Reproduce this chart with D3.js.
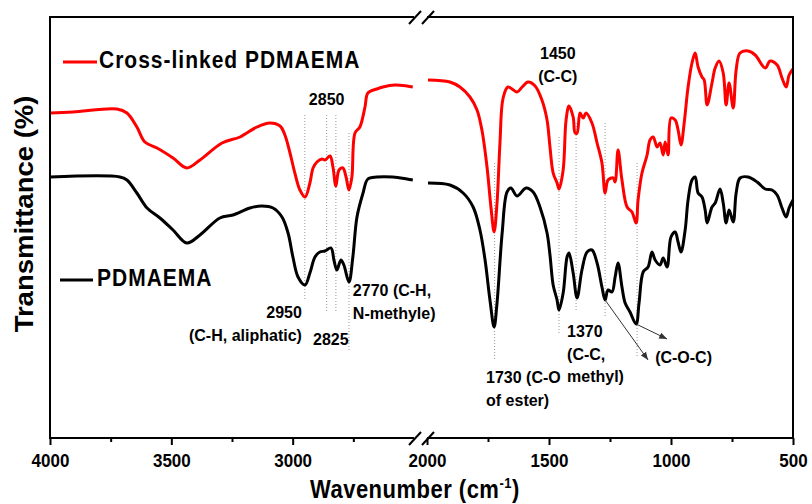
<!DOCTYPE html>
<meta charset="utf-8">
<style>
body { margin: 0; background: #fff; }
svg { font-family: "Liberation Sans", Arial, sans-serif; font-weight: bold; }
.frame { stroke: #000; stroke-width: 2px; fill: none; }
.axis path, .axis line { stroke: #000; stroke-width: 2px; }
.spec { fill: none; stroke-width: 3px; stroke-linejoin: round; }
.mark { stroke: #999; stroke-width: 1px; stroke-dasharray: 1,2; }
.arrow { stroke: #333; stroke-width: 1px; }
</style>
<svg width="812" height="504"></svg>
<script src="https://cdnjs.cloudflare.com/ajax/libs/d3/7.8.5/d3.min.js"></script>
<script>
// spectra: [wavenumber, transmittance (arb. %)]
var crossLeft = [[4000,81.25],[3905,81.5],[3724,82.25],[3683,81.25],[3642,77.75],[3609,74],[3559,72.5],[3493,70],[3436,67.5],[3382,69.5],[3291,73.75],[3217,75.25],[3147,77.75],[3094,78.75],[3052,78],[3032,75.75],[3011,71.25],[2991,66.25],[2970,62],[2949,60.25],[2929,63.75],[2916,67.5],[2900,69],[2879,69.75],[2867,69.5],[2846,70.5],[2834,67.75],[2822,63],[2809,67],[2793,67.5],[2780,65.25],[2768,62],[2756,65.25],[2743,76.25],[2723,77.75],[2702,82.75],[2690,86.25],[2653,87.25],[2628,87.75],[2579,88.25],[2529,88],[2505,87.75]];
var crossRight = [[1996,89.5],[1906,89],[1865,87.75],[1824,85.25],[1795,82],[1775,77],[1754,67.75],[1738,57.75],[1725,51.5],[1713,58.75],[1701,73.75],[1688,85],[1668,87.75],[1631,86.5],[1610,87.75],[1586,89],[1557,88],[1529,84.5],[1508,79.5],[1496,72.75],[1483,66.25],[1467,63.75],[1459,62.25],[1442,67],[1430,79.5],[1418,83],[1401,80.25],[1393,76.25],[1385,76.25],[1373,81.25],[1360,80],[1348,81.25],[1324,78.75],[1303,73.75],[1283,68.75],[1270,61.25],[1258,64.5],[1237,65],[1229,64],[1217,72],[1201,64.5],[1180,57.75],[1160,56.5],[1143,53.75],[1135,59.5],[1119,66.25],[1098,70.75],[1086,74.5],[1073,75.25],[1057,72.75],[1045,73.75],[1032,70.75],[1024,74],[1012,70.75],[1000,80],[983,79.5],[971,77],[959,73.25],[946,78.75],[930,87.75],[914,93.75],[901,96.25],[889,92.75],[873,90.25],[864,89.5],[852,83.25],[832,88.75],[819,92.5],[803,94.25],[786,91.25],[774,83.25],[762,88.75],[745,82.5],[733,92],[717,96.25],[684,96.75],[655,95.75],[614,92.5],[594,94.25],[565,93.25],[545,90],[528,87.75],[516,90.75],[500,92.25]];
var pureLeft = [[4000,65.25],[3712,65.25],[3683,64.5],[3642,61.25],[3600,57.5],[3547,55],[3493,52],[3436,48.75],[3382,50.75],[3300,55],[3246,55.75],[3176,57.5],[3127,58],[3081,57.5],[3044,55.25],[3019,51.25],[2999,45.25],[2978,40.25],[2949,38.25],[2929,41.25],[2908,45.25],[2888,46.5],[2867,46.75],[2842,47.5],[2830,44.5],[2818,42],[2801,44.5],[2789,43.25],[2768,39],[2752,45.25],[2735,55.25],[2710,61.25],[2690,64.75],[2653,65.25],[2587,65.25],[2529,64.75],[2505,64.5]];
var pureRight = [[1996,63.75],[1906,63.25],[1852,61.25],[1811,57.75],[1783,52],[1762,44.5],[1742,34.5],[1725,27.75],[1713,33.75],[1692,51.25],[1672,61.5],[1656,62.5],[1631,60.5],[1594,62.5],[1565,61.5],[1537,57.75],[1508,51.25],[1496,45.75],[1483,38.25],[1467,34.5],[1459,32],[1442,36.25],[1426,45.25],[1418,46.25],[1401,41.25],[1385,35],[1365,42],[1344,46.5],[1324,47],[1303,43.75],[1283,37.75],[1270,34.5],[1258,37],[1242,36.5],[1229,40.25],[1217,43.75],[1201,37.75],[1188,33.75],[1168,31.5],[1143,28.5],[1131,33.75],[1114,41.5],[1094,42.75],[1078,46.5],[1065,44.5],[1045,43.25],[1032,45],[1016,42.75],[1000,50.25],[983,51.5],[971,49],[959,46.5],[942,52],[930,59.5],[914,64.5],[901,65.25],[889,61.25],[873,60.25],[860,57],[852,53.75],[832,57.75],[819,58.75],[799,62.25],[786,58.75],[774,53.75],[762,57],[745,54],[733,61.25],[717,65],[684,65.25],[647,64],[614,62.25],[586,62],[565,60.75],[545,57.5],[528,55.25],[516,57.5],[500,59.5]];

var leftTicks = [4000, 3500, 3000], leftMinor = [3750, 3250, 2750];
var rightTicks = [2000, 1500, 1000, 500], rightMinor = [1750, 1250, 750];

// dotted guide lines: wavenumber, top and bottom transmittance
var guides = [[2950,80.75,34.5],[2860,80.75,31.25],[2822,80.75,31.25],[2768,76.25,22],
              [1723,68.75,19.5],[1459,75.25,26.25],[1389,78.75,31.5],[1270,78.75,30],[1139,68.75,20]];

// peak labels: lines, wavenumber, transmittance of first baseline, anchor
var peakLabels = [
  [["2850"], 2860, 83.25, "middle"],
  [["1450", "(C-C)"], 1464, 94.75, "middle"],
  [["2950"], 2962, 30, "end"],
  [["(C-H, aliphatic)"], 2962, 24.2, "end"],
  [["2825"], 2916, 23.25, "start"],
  [["2770 (C-H,", "N-methyle)"], 2752, 35.4, "start"],
  [["1730 (C-O", "of ester)"], 1758, 13.75, "start"],
  [["1370", "(C-C,", "methyl)"], 1426, 25.25, "start"],
  [["(C-O-C)"], 1065, 18.75, "start"]
];
// arrows for C-O-C: from [wn, T] to [wn, T]
var arrows = [[[1270,34.5],[1094,19.5]], [[1143,28.5],[1016,24.75]]];

var svg = d3.select("svg");
var plotTop = 17, plotBottom = 438;
var xL = d3.scaleLinear().domain([4000, 2500]).range([50, 414]);
var xR = d3.scaleLinear().domain([2000, 500]).range([427, 793]);
var y = d3.scaleLinear().domain([0, 105.25]).range([plotBottom, plotTop]);
function xOf(w) { return w >= 2250 ? xL(w) : xR(w); }

// guides
svg.selectAll(".mark").data(guides).enter().append("line")
    .attr("class", "mark")
    .attr("x1", function(d) { return xOf(d[0]); })
    .attr("x2", function(d) { return xOf(d[0]); })
    .attr("y1", function(d) { return y(d[1]); })
    .attr("y2", function(d) { return y(d[2]); });

// spectra
var line = d3.line()
    .curve(d3.curveCatmullRom.alpha(0.5))
    .x(function(d) { return xOf(d[0]); })
    .y(function(d) { return y(d[1]); });
[[pureLeft, "#000"], [pureRight, "#000"], [crossLeft, "#ff0000"], [crossRight, "#ff0000"]].forEach(function(s) {
  svg.append("path").attr("class", "spec").attr("d", line(s[0])).style("stroke", s[1]);
});

// frame with axis break
svg.append("path").attr("class", "frame")
    .attr("d", "M" + xL.range()[1] + "," + plotTop + "H50V" + plotBottom + "H" + xL.range()[1] +
               "M" + xR.range()[0] + "," + plotTop + "H793V" + plotBottom + "H" + xR.range()[0]);
[plotTop, plotBottom].forEach(function(yy) {
  [409, 422].forEach(function(x0) {
    svg.append("line").attr("class", "frame")
        .attr("x1", x0).attr("y1", yy + 7).attr("x2", x0 + 12).attr("y2", yy - 6);
  });
});

function drawAxis(scale, major, minor) {
  var gMaj = svg.append("g").attr("class", "axis")
      .attr("transform", "translate(0," + plotBottom + ")")
      .call(d3.axisBottom(scale).tickValues(major).tickSize(7).tickSizeOuter(0).tickFormat(d3.format("d")));
  gMaj.select(".domain").remove();
  gMaj.selectAll("text")
      .attr("y", 0).attr("dy", 0)
      .attr("transform", "translate(0,29) scale(1,1.1)")
      .style("font-size", "17px").style("font-family", "'Liberation Sans', Arial, sans-serif")
      .style("font-weight", "bold").attr("fill", "#000");
  var gMin = svg.append("g").attr("class", "axis")
      .attr("transform", "translate(0," + plotBottom + ")")
      .call(d3.axisBottom(scale).tickValues(minor).tickSize(4).tickFormat(""));
  gMin.select(".domain").remove();
}
drawAxis(xL, leftTicks, leftMinor);
drawAxis(xR, rightTicks, rightMinor);

// axis titles
var xt = svg.append("text")
    .attr("transform", "translate(310,498) scale(1,1.15)")
    .style("font-size", "22px").style("letter-spacing", "0.5px");
xt.append("tspan").text("Wavenumber (cm");
xt.append("tspan").attr("dy", -9).style("font-size", "13px").text("-1");
xt.append("tspan").attr("dy", 9).text(")");

svg.append("text")
    .attr("transform", "translate(33,214) scale(1,1.1) rotate(-90)")
    .attr("text-anchor", "middle")
    .style("font-size", "25px")
    .text("Transmittance (%)");

// legend
svg.append("line").attr("x1", 63).attr("x2", 97).attr("y1", 62).attr("y2", 62)
    .style("stroke", "#ff0000").style("stroke-width", 3);
svg.append("text").attr("transform", "translate(99,68) scale(1,1.1)")
    .style("font-size", "21px").style("letter-spacing", "1px").text("Cross-linked PDMAEMA");
svg.append("line").attr("x1", 60).attr("x2", 93).attr("y1", 280).attr("y2", 280)
    .style("stroke", "#000").style("stroke-width", 3);
svg.append("text").attr("transform", "translate(97,286) scale(1,1.1)")
    .style("font-size", "21px").style("letter-spacing", "1px").text("PDMAEMA");

// peak annotations
peakLabels.forEach(function(p) {
  var t = svg.append("text")
      .attr("x", xOf(p[1])).attr("y", y(p[2]))
      .attr("text-anchor", p[3])
      .style("font-size", "16px");
  p[0].forEach(function(s, i) {
    t.append("tspan").attr("x", xOf(p[1])).attr("dy", i ? 22.5 : 0).text(s);
  });
});

svg.append("defs").append("marker")
    .attr("id", "head").attr("viewBox", "0 0 10 10")
    .attr("refX", 10).attr("refY", 5)
    .attr("markerWidth", 8).attr("markerHeight", 8)
    .attr("orient", "auto")
  .append("path").attr("d", "M0,1L10,5L0,9Z").attr("fill", "#333");
arrows.forEach(function(a) {
  svg.append("line").attr("class", "arrow")
      .attr("x1", xOf(a[0][0])).attr("y1", y(a[0][1]))
      .attr("x2", xOf(a[1][0])).attr("y2", y(a[1][1]))
      .attr("marker-end", "url(#head)");
});
</script>
